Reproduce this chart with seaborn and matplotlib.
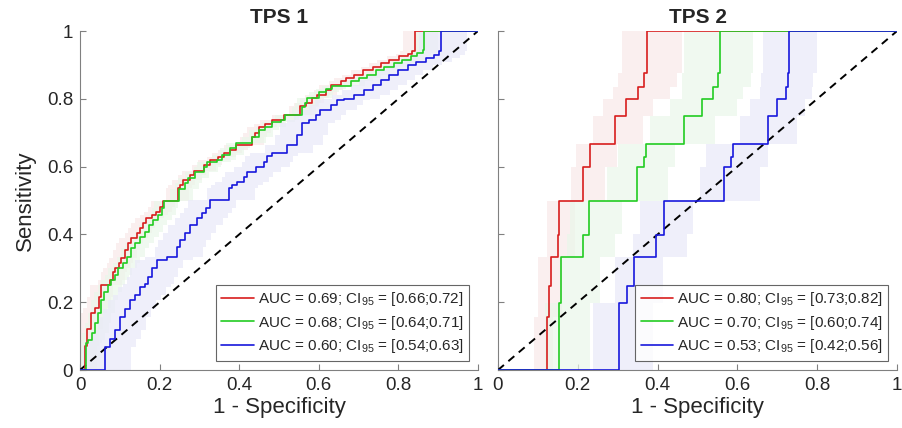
import numpy as np
import pandas as pd
import matplotlib
matplotlib.use('Agg')
import matplotlib.pyplot as plt
import seaborn as sns

# ROC curve vertices (1 - specificity, sensitivity)
# TPS 1
tps1_red_fpr = [0, 0.013, 0.018, 0.027, 0.037, 0.047, 0.054, 0.075, 0.083, 0.089, 0.097, 0.104, 0.112, 0.121,
                0.129, 0.142, 0.150, 0.159, 0.167, 0.180, 0.192, 0.201, 0.208, 0.245, 0.252, 0.260, 0.277, 0.286,
                0.311, 0.327, 0.348, 0.361, 0.378, 0.393, 0.432, 0.440, 0.449, 0.466, 0.483, 0.512, 0.554, 0.567,
                0.584, 0.596, 0.617, 0.630, 0.655, 0.668, 0.688, 0.710, 0.735, 0.756, 0.776, 0.802, 0.823, 0.835,
                0.841, 1.0]
tps1_red_tpr = [0, 0.07, 0.12, 0.167, 0.183, 0.216, 0.25, 0.265, 0.29, 0.30, 0.315, 0.33, 0.354, 0.374,
                0.389, 0.403, 0.418, 0.433, 0.447, 0.457, 0.467, 0.482, 0.50, 0.536, 0.546, 0.56, 0.575, 0.588,
                0.605, 0.619, 0.627, 0.639, 0.649, 0.664, 0.688, 0.70, 0.718, 0.725, 0.737, 0.752, 0.778, 0.787,
                0.802, 0.81, 0.827, 0.841, 0.852, 0.862, 0.871, 0.886, 0.895, 0.906, 0.915, 0.925, 0.932, 0.94,
                1.0, 1.0]

tps1_green_fpr = [0, 0.016, 0.021, 0.029, 0.037, 0.044, 0.052, 0.060, 0.071, 0.079, 0.087, 0.096, 0.108, 0.117,
                  0.128, 0.138, 0.150, 0.163, 0.173, 0.184, 0.197, 0.205, 0.212, 0.250, 0.264, 0.272, 0.290, 0.311,
                  0.320, 0.344, 0.357, 0.378, 0.393, 0.432, 0.449, 0.466, 0.483, 0.504, 0.516, 0.558, 0.565, 0.571,
                  0.600, 0.617, 0.634, 0.680, 0.701, 0.722, 0.743, 0.764, 0.789, 0.810, 0.831, 0.848, 0.861, 0.865,
                  1.0]
tps1_green_tpr = [0, 0.079, 0.088, 0.108, 0.138, 0.167, 0.206, 0.231, 0.25, 0.265, 0.28, 0.30, 0.315, 0.334,
                  0.359, 0.374, 0.393, 0.408, 0.428, 0.442, 0.457, 0.477, 0.50, 0.533, 0.551, 0.565, 0.585, 0.60,
                  0.614, 0.621, 0.634, 0.654, 0.669, 0.688, 0.708, 0.718, 0.733, 0.737, 0.752, 0.777, 0.787, 0.801,
                  0.821, 0.83, 0.837, 0.852, 0.862, 0.871, 0.886, 0.895, 0.906, 0.915, 0.925, 0.935, 0.945, 1.0,
                  1.0]

tps1_blue_fpr = [0, 0.063, 0.076, 0.088, 0.100, 0.113, 0.126, 0.139, 0.151, 0.164, 0.172, 0.181, 0.193, 0.218,
                 0.243, 0.252, 0.264, 0.277, 0.294, 0.307, 0.316, 0.327, 0.374, 0.383, 0.395, 0.411, 0.420, 0.441,
                 0.462, 0.470, 0.483, 0.520, 0.546, 0.558, 0.575, 0.592, 0.604, 0.630, 0.646, 0.663, 0.688, 0.713,
                 0.735, 0.756, 0.776, 0.798, 0.823, 0.844, 0.869, 0.890, 0.903, 0.907, 1.0]
tps1_blue_tpr = [0, 0.069, 0.09, 0.118, 0.157, 0.18, 0.206, 0.22, 0.246, 0.255, 0.275, 0.30, 0.324, 0.334,
                 0.364, 0.383, 0.403, 0.428, 0.447, 0.462, 0.477, 0.501, 0.536, 0.546, 0.555, 0.570, 0.585, 0.60,
                 0.614, 0.63, 0.639, 0.664, 0.693, 0.728, 0.737, 0.752, 0.767, 0.782, 0.796, 0.80, 0.812, 0.827,
                 0.842, 0.856, 0.871, 0.886, 0.90, 0.91, 0.92, 0.93, 0.94, 1.0, 1.0]

# CI band widths for TPS 1 (left / right of the curve, in 1 - specificity)
tps1_band = {'red': (0.03, 0.03), 'green': (0.025, 0.035), 'blue': (0.055, 0.065)}

# TPS 2
tps2_red_fpr = [0, 0.122, 0.127, 0.133, 0.151, 0.153, 0.214, 0.231, 0.293, 0.320, 0.350, 0.366, 0.373, 1.0]
tps2_red_tpr = [0, 0.157, 0.248, 0.333, 0.398, 0.50, 0.60, 0.666, 0.75, 0.80, 0.834, 0.877, 1.0, 1.0]
tps2_green_fpr = [0, 0.153, 0.157, 0.214, 0.228, 0.348, 0.366, 0.370, 0.467, 0.512, 0.538, 0.552, 0.556, 1.0]
tps2_green_tpr = [0, 0.197, 0.333, 0.398, 0.50, 0.60, 0.627, 0.666, 0.75, 0.80, 0.834, 0.877, 1.0, 1.0]
tps2_blue_fpr = [0, 0.303, 0.324, 0.342, 0.395, 0.416, 0.567, 0.583, 0.590, 0.676, 0.700, 0.721, 0.726, 0.730, 1.0]
tps2_blue_tpr = [0, 0.197, 0.248, 0.333, 0.398, 0.50, 0.60, 0.627, 0.666, 0.75, 0.80, 0.834, 0.877, 1.0, 1.0]

# CI bands for TPS 2: sensitivity edges and fpr range per level
tps2_red_band_y = [0, 0.157, 0.333, 0.5, 0.6, 0.666, 0.75, 0.8, 0.834, 0.877, 1.0]
tps2_red_band_lo = [0.090, 0.101, 0.124, 0.183, 0.195, 0.239, 0.264, 0.287, 0.300, 0.310]
tps2_red_band_hi = [0.139, 0.160, 0.193, 0.268, 0.297, 0.364, 0.389, 0.431, 0.448, 0.460]
tps2_green_band_y = [0, 0.197, 0.333, 0.4, 0.5, 0.6, 0.666, 0.75, 0.8, 0.834, 0.877, 1.0]
tps2_green_band_lo = [0.118, 0.160, 0.172, 0.180, 0.272, 0.300, 0.381, 0.430, 0.460, 0.460, 0.467]
tps2_green_band_hi = [0.230, 0.256, 0.293, 0.310, 0.427, 0.444, 0.544, 0.598, 0.615, 0.635, 0.640]
tps2_blue_band_y = [0, 0.197, 0.333, 0.4, 0.5, 0.6, 0.666, 0.75, 0.8, 0.834, 0.877, 1.0]
tps2_blue_band_lo = [0.239, 0.293, 0.339, 0.356, 0.506, 0.521, 0.607, 0.632, 0.656, 0.660, 0.665]
tps2_blue_band_hi = [0.389, 0.414, 0.473, 0.489, 0.656, 0.677, 0.749, 0.769, 0.786, 0.790, 0.799]

tps1_labels = ['AUC = 0.69; CI$_{95}$ = [0.66;0.72]',
               'AUC = 0.68; CI$_{95}$ = [0.64;0.71]',
               'AUC = 0.60; CI$_{95}$ = [0.54;0.63]']
tps2_labels = ['AUC = 0.80; CI$_{95}$ = [0.73;0.82]',
               'AUC = 0.70; CI$_{95}$ = [0.60;0.74]',
               'AUC = 0.53; CI$_{95}$ = [0.42;0.56]']

colors = {'red': '#d81e1e', 'green': '#22cc22', 'blue': '#1818dc'}
band_colors = {'red': '#f9e9e9', 'green': '#eaf7ea', 'blue': '#e9e9f9'}
ticks = [0, 0.2, 0.4, 0.6, 0.8, 1]
tick_labels = ['0', '0.2', '0.4', '0.6', '0.8', '1']

sns.set_theme(style='white')
plt.rcParams['font.family'] = ['Liberation Sans', 'DejaVu Sans']
plt.rcParams['mathtext.fontset'] = 'custom'
plt.rcParams['mathtext.rm'] = 'Liberation Sans'
plt.rcParams['mathtext.it'] = 'Liberation Sans:italic'
plt.rcParams['mathtext.bf'] = 'Liberation Sans:bold'

fig = plt.figure(figsize=(9.02, 4.28), dpi=100)
ax1 = fig.add_axes([0.0887, 0.1355, 0.4412, 0.792])
ax2 = fig.add_axes([0.5521, 0.1355, 0.4424, 0.792])


def style_axes(ax, title, show_ylabels):
    ax.plot([0, 1], [0, 1], color='black', linestyle=(0, (4, 3)), linewidth=1.4, zorder=3)
    ax.set_xlim(0, 1)
    ax.set_ylim(0, 1)
    ax.set_xticks(ticks)
    ax.set_xticklabels(tick_labels)
    ax.set_yticks(ticks)
    if show_ylabels:
        ax.set_yticklabels(tick_labels)
        ax.set_ylabel('Sensitivity', fontsize=16, color='#262626', labelpad=8)
    else:
        ax.set_yticklabels([])
        ax.set_ylabel('')
    ax.set_xlabel('1 - Specificity', fontsize=16, color='#262626', labelpad=2)
    ax.set_title(title, fontsize=15, fontweight='bold', pad=6)
    ax.tick_params(direction='in', length=4, width=0.8, colors='#808080',
                   labelcolor='#262626', labelsize=13.5, pad=5, left=True, bottom=True)
    for s in ['top', 'right']:
        ax.spines[s].set_visible(False)
    for s in ['left', 'bottom']:
        ax.spines[s].set_color('#808080')
        ax.spines[s].set_linewidth(0.8)


# left panel: bands then curves
tps1 = [('red', tps1_red_fpr, tps1_red_tpr), ('green', tps1_green_fpr, tps1_green_tpr),
        ('blue', tps1_blue_fpr, tps1_blue_tpr)]
for name, fpr, tpr in tps1:
    lo, hi = tps1_band[name]
    x = np.array(fpr)
    ax1.fill_betweenx(tpr, np.clip(x - lo, 0, 1), np.clip(x + hi, 0, 1), step='pre',
                      color=band_colors[name], alpha=0.7, linewidth=0, zorder=1)
for (name, fpr, tpr), lab in zip(tps1, tps1_labels):
    df = pd.DataFrame({'fpr': fpr, 'tpr': tpr})
    sns.lineplot(data=df, x='fpr', y='tpr', ax=ax1, sort=False, estimator=None,
                 drawstyle='steps-post', color=colors[name], linewidth=1.2, label=lab, zorder=4)

# right panel
tps2 = [('red', tps2_red_fpr, tps2_red_tpr, tps2_red_band_y, tps2_red_band_lo, tps2_red_band_hi),
        ('green', tps2_green_fpr, tps2_green_tpr, tps2_green_band_y, tps2_green_band_lo, tps2_green_band_hi),
        ('blue', tps2_blue_fpr, tps2_blue_tpr, tps2_blue_band_y, tps2_blue_band_lo, tps2_blue_band_hi)]
for name, fpr, tpr, by, blo, bhi in tps2:
    ax2.fill_betweenx(by, blo + [blo[-1]], bhi + [bhi[-1]], step='post',
                      color=band_colors[name], alpha=0.7, linewidth=0, zorder=1)
for (name, fpr, tpr, by, blo, bhi), lab in zip(tps2, tps2_labels):
    df = pd.DataFrame({'fpr': fpr, 'tpr': tpr})
    sns.lineplot(data=df, x='fpr', y='tpr', ax=ax2, sort=False, estimator=None,
                 drawstyle='steps-post', color=colors[name], linewidth=1.2, label=lab, zorder=4)

style_axes(ax1, 'TPS 1', True)
style_axes(ax2, 'TPS 2', False)

for ax in [ax1, ax2]:
    leg = ax.legend(loc='lower right', bbox_to_anchor=(0.978, 0.028), fontsize=11,
                    frameon=True, fancybox=False, handlelength=2.1, handletextpad=0.3,
                    labelspacing=0.35, borderpad=0.35, borderaxespad=0)
    leg.get_frame().set_edgecolor('#404040')
    leg.get_frame().set_linewidth(0.8)
    for t in leg.get_texts():
        t.set_color('#262626')

plt.savefig('out.png', dpi=100)
